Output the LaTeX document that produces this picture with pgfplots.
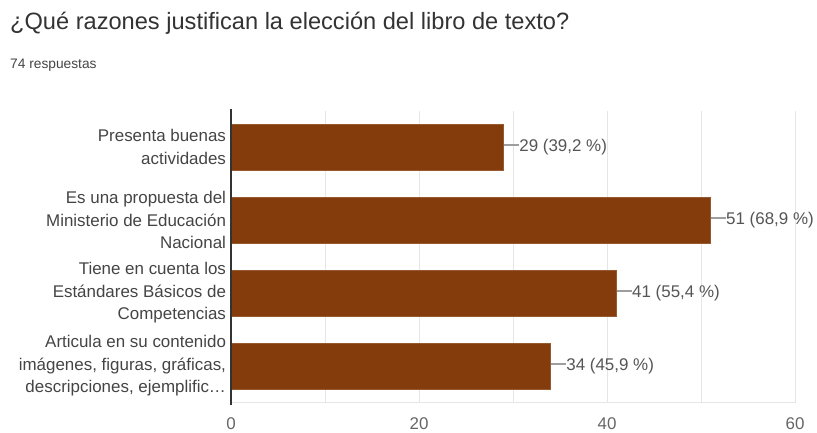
\documentclass[border=0pt]{standalone}
\usepackage{pgfplots}
\pgfplotsset{compat=1.18}
\usepackage{fontspec}
\setmainfont{Liberation Sans}
\definecolor{barc}{HTML}{843C0C}
\definecolor{ttl}{HTML}{333333}
\definecolor{txt}{HTML}{444444}
\definecolor{lbl}{HTML}{555555}
\definecolor{tck}{HTML}{666666}
\definecolor{gridc}{HTML}{E6E6E6}
\definecolor{axc}{HTML}{333333}
\definecolor{conn}{HTML}{9E9E9E}
\begin{document}
\begin{tikzpicture}[x=1bp,y=1bp]
\useasboundingbox (0,0) rectangle (817,432);
\node[anchor=base west, inner sep=0, font=\fontsize{23.7}{26}\selectfont, text=ttl] at (10,402) {¿Qué razones justifican la elección del libro de texto?};
\node[anchor=base west, inner sep=0, font=\fontsize{13.8}{15}\selectfont, text=txt] at (10,364) {74 respuestas};
\begin{axis}[
  at={(231bp,29.5bp)}, anchor=south west,
  scale only axis, width=564bp, height=292bp,
  xbar, bar width=46bp,
  xmin=0, xmax=60, ymin=-0.5, ymax=3.5,
  y dir=reverse,
  xtick={0,20,40,60}, minor xtick={10,30,50},
  xmajorgrids, xminorgrids,
  grid style={draw=gridc, line width=0.8bp},
  minor grid style={draw=gridc, line width=0.8bp},
  major tick length=0, minor tick length=0,
  ytick={0,1,2,3},
  yticklabels={{Presenta buenas\\actividades},{Es una propuesta del\\Ministerio de Educación\\Nacional},{Tiene en cuenta los\\Estándares Básicos de\\Competencias},{Articula en su contenido\\imágenes, figuras, gráficas,\\descripciones, ejemplific…}},
  yticklabel style={align=right, font=\fontsize{17}{22.5}\selectfont, text=txt, xshift=-1.5bp},
  xticklabel style={font=\fontsize{17}{18}\selectfont, text=tck, anchor=base, yshift=-26.5bp},
  /pgf/number format/assume math mode=true,
  axis line style={draw=none},
  clip=false,
  point meta=explicit symbolic,
  nodes near coords,
  nodes near coords style={anchor=west, inner xsep=0pt, font=\fontsize{17}{18}\selectfont, text=lbl},
]
\addplot[fill=barc, draw=barc!85!white, line width=0.6bp] coordinates {
 (29,0) [{\textcolor{conn}{\rule[0.33em]{15.5bp}{1.5bp}}29 (39,2 \%)}]
 (51,1) [{\textcolor{conn}{\rule[0.33em]{15.5bp}{1.5bp}}51 (68,9 \%)}]
 (41,2) [{\textcolor{conn}{\rule[0.33em]{15.5bp}{1.5bp}}41 (55,4 \%)}]
 (34,3) [{\textcolor{conn}{\rule[0.33em]{15.5bp}{1.5bp}}34 (45,9 \%)}]
};
\draw[gridc, line width=0.8bp] (axis cs:0,3.5) -- (axis cs:60,3.5);
\draw[axc, line width=2bp] (axis cs:0,-0.52) -- (axis cs:0,3.53);
\end{axis}
\end{tikzpicture}
\end{document}
